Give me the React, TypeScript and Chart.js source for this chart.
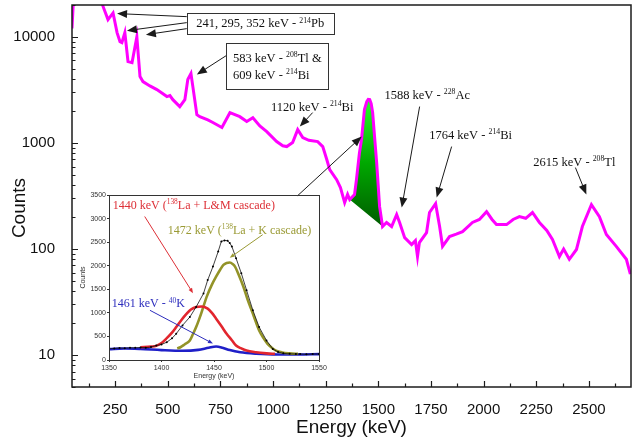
import React, { useEffect, useRef } from 'react';
import { Chart, registerables } from 'chart.js';
Chart.register(...registerables);

// ---------- main spectrum ----------
const spectrumEnergy = [
  45, 55, 120, 170, 192, 216, 240, 259, 273, 282, 296, 311, 330, 353, 368, 382, 415, 448, 496, 510,
  524, 557, 581, 595, 610, 619, 638, 652, 690, 714, 757, 795, 842, 875, 904, 937, 970, 1017, 1046, 1065,
  1093, 1117, 1141, 1170, 1212, 1236, 1255, 1269, 1302, 1320, 1340, 1354, 1364, 1387, 1396, 1410, 1420, 1434, 1445, 1452,
  1459, 1466, 1473, 1482, 1492, 1506, 1520, 1539, 1563, 1587, 1601, 1625, 1658, 1676, 1686, 1695, 1729, 1743, 1772, 1791,
  1805, 1838, 1870, 1900, 1947, 1980, 2014, 2040, 2061, 2109, 2140, 2170, 2200, 2232, 2265, 2300, 2327, 2360, 2380, 2407,
  2441, 2469, 2512, 2550, 2583, 2630, 2678, 2697,
];
const spectrumCounts = [
  12000, 30000, 45000, 30000, 19500, 14560, 16830, 10980, 9030, 8840, 10980, 5850, 5720, 10000, 4230, 3790, 3450, 3190, 2740, 2800,
  2560, 2200, 2560, 3960, 4510, 3400, 1850, 1770, 1650, 1560, 1400, 1930, 1770, 1592, 1730, 1450, 1280, 1031, 940, 925,
  1010, 1337, 1125, 1060, 1031, 925, 698, 561, 451, 380, 274, 327, 293, 327, 451, 800, 1077, 2065, 2450, 2580,
  2565, 2350, 1930, 1150, 653, 251, 163, 178, 163, 211, 178, 128, 110, 120, 85, 115, 143, 221, 268, 163,
  106, 131, 138, 146, 178, 190, 225, 190, 170, 170, 190, 202, 195, 221, 178, 150, 123, 85, 100, 80,
  99, 163, 262, 202, 137, 106, 80, 58,
];
const peakRegion = [1364, 1520];

const xTickValues = [250, 500, 750, 1000, 1250, 1500, 1750, 2000, 2250, 2500];
const xMinorTickValues = [125, 375, 625, 875, 1125, 1375, 1625, 1875, 2125, 2375, 2625];
const yTickValues = [10, 100, 1000, 10000];

// ---------- inset (fit of the 1440-1472 keV region) ----------
const insetMeasuredEnergy = [1350, 1355, 1360, 1365, 1370, 1375, 1380, 1385, 1390, 1395, 1400, 1405, 1410, 1414, 1420, 1427, 1433, 1440, 1444, 1449, 1454, 1457, 1460, 1463, 1465, 1467, 1471, 1476, 1481, 1487, 1493, 1500, 1506, 1511, 1516, 1522, 1528, 1532, 1538, 1544, 1550];
const insetMeasuredCounts = [235, 245, 255, 250, 260, 258, 265, 262, 275, 306, 330, 377, 460, 556, 734, 912, 1126, 1411, 1696, 1981, 2302, 2516, 2537, 2530, 2480, 2409, 2160, 1840, 1482, 1055, 698, 413, 235, 170, 141, 130, 125, 128, 120, 125, 128];
const inset1440Energy = [1380, 1390, 1395, 1400, 1405, 1410, 1414, 1419, 1424, 1428, 1433, 1438, 1444, 1448, 1452, 1457, 1462, 1467, 1471, 1476, 1481, 1490, 1500, 1508];
const inset1440Counts = [270, 285, 300, 360, 463, 580, 698, 850, 983, 1070, 1126, 1135, 1090, 1000, 877, 720, 556, 420, 306, 245, 199, 164, 141, 130];
const inset1472Energy = [1415, 1418, 1422, 1427, 1430, 1433, 1438, 1443, 1448, 1452, 1456, 1459, 1462, 1465, 1468, 1470, 1474, 1478, 1482, 1487, 1490, 1493, 1497, 1501, 1505, 1509, 1515, 1522, 1530];
const inset1472Counts = [245, 270, 330, 413, 550, 698, 1000, 1340, 1600, 1767, 1920, 2017, 2060, 2067, 2030, 1981, 1780, 1554, 1280, 983, 800, 627, 470, 342, 260, 199, 160, 141, 130];
const insetK40Energy = [1350, 1365, 1380, 1400, 1420, 1435, 1445, 1452, 1458, 1465, 1475, 1490, 1510, 1530, 1550];
const insetK40Counts = [230, 245, 235, 210, 195, 215, 260, 285, 260, 210, 165, 135, 118, 118, 125];
const insetXTicks = [1350, 1400, 1450, 1500, 1550];
const insetYTicks = [0, 500, 1000, 1500, 2000, 2500, 3000, 3500];

// ---------- annotations (data coordinates) ----------
const mainAnnotations = [
  { lines: ['241, 295, 352 keV - ^{214}Pb'], x: 939, y: 13490, align: 'center', box: { padX: 9.5, padY: 2 },
    arrows: [[590, 15530, 259, 16600], [590, 13640, 306, 11460], [590, 11970, 396, 10510]] },
  { lines: ['583 keV - ^{208}Tl &', '609 keV - ^{214}Bi'], x: 1020, y: 5306, align: 'left', box: { padX: 6.5, padY: 6 },
    arrows: [[785, 6810, 638, 4418]] },
  { lines: ['1120 keV - ^{214}Bi'], x: 1186, y: 2204, align: 'center', arrows: [[1188, 1934, 1127, 1428]] },
  { lines: ['1588 keV - ^{228}Ac'], x: 1732, y: 2858, align: 'center', arrows: [[1696, 2204, 1611, 246]] },
  { lines: ['1764 keV - ^{214}Bi'], x: 1938, y: 1200, align: 'center', arrows: [[1848, 925, 1777, 306]] },
  { lines: ['2615 keV - ^{208}Tl'], x: 2431, y: 668, align: 'center', arrows: [[2436, 586, 2488, 327]] },
  { lines: [], x: 0, y: 0, align: 'center', arrows: [[1117, 319, 1421, 1149]] },
];
const insetAnnotations = [
  { lines: ['1440 keV (^{138}La + L&M cascade)'], x: 1353.5, y: 3300, align: 'left', color: '#dd2f36', arrows: [[1384, 3044, 1430, 1418]] },
  { lines: ['1472 keV (^{138}La + K cascade)'], x: 1406, y: 2766, align: 'left', color: '#9a9a34', arrows: [[1496.4, 2659, 1465, 2167]] },
  { lines: ['1461 keV - ^{40}K'], x: 1352.6, y: 1204, align: 'left', color: '#2d2dbd', arrows: [[1389, 1054, 1449, 349]] },
];

const SANS = '"Liberation Sans", Arial, sans-serif';
const SERIF = '"Liberation Serif", "Times New Roman", serif';

type Part = { t: string; sup: boolean };
function parseRich(s: string): Part[] {
  const parts: Part[] = [];
  const re = /\^\{([^}]*)\}/g;
  let last = 0;
  let m: RegExpExecArray | null;
  while ((m = re.exec(s))) {
    if (m.index > last) parts.push({ t: s.slice(last, m.index), sup: false });
    parts.push({ t: m[1], sup: true });
    last = re.lastIndex;
  }
  if (last < s.length) parts.push({ t: s.slice(last), sup: false });
  return parts;
}
function richWidth(ctx: CanvasRenderingContext2D, parts: Part[], size: number) {
  let w = 0;
  for (const p of parts) {
    ctx.font = `${p.sup ? size * 0.62 : size}px ${SERIF}`;
    w += ctx.measureText(p.t).width;
  }
  return w;
}
function drawRich(ctx: CanvasRenderingContext2D, parts: Part[], x: number, yMid: number, size: number) {
  let cx = x;
  ctx.textBaseline = 'alphabetic';
  ctx.textAlign = 'left';
  for (const p of parts) {
    const fs = p.sup ? size * 0.62 : size;
    ctx.font = `${fs}px ${SERIF}`;
    const dy = p.sup ? -size * 0.36 : 0;
    ctx.fillText(p.t, cx, yMid + size * 0.34 + dy);
    cx += ctx.measureText(p.t).width;
  }
}
function drawArrow(ctx: CanvasRenderingContext2D, x1: number, y1: number, x2: number, y2: number, color: string, head: number, half: number) {
  const a = Math.atan2(y2 - y1, x2 - x1);
  ctx.strokeStyle = color;
  ctx.fillStyle = color;
  ctx.lineWidth = 1;
  ctx.beginPath();
  ctx.moveTo(x1, y1);
  ctx.lineTo(x2 - Math.cos(a) * head * 0.8, y2 - Math.sin(a) * head * 0.8);
  ctx.stroke();
  ctx.beginPath();
  ctx.moveTo(x2, y2);
  ctx.lineTo(x2 - Math.cos(a) * head - Math.sin(a) * half, y2 - Math.sin(a) * head + Math.cos(a) * half);
  ctx.lineTo(x2 - Math.cos(a) * head + Math.sin(a) * half, y2 - Math.sin(a) * head - Math.cos(a) * half);
  ctx.closePath();
  ctx.fill();
}

function annotationPlugin(list: any[], size: number, lineH: number, defColor: string, head: number, half: number) {
  return {
    id: 'notes',
    afterDatasetsDraw(chart: any) {
      const { ctx, scales } = chart;
      const px = (v: number) => scales.x.getPixelForValue(v);
      const py = (v: number) => scales.y.getPixelForValue(v);
      ctx.save();
      for (const a of list) {
        const color = a.color || defColor;
        for (const ar of a.arrows) {
          drawArrow(ctx, px(ar[0]), py(ar[1]), px(ar[2]), py(ar[3]), color === defColor ? '#1a1a1a' : color, head, half);
        }
        if (!a.lines.length) continue;
        const parts = a.lines.map((l: string) => parseRich(l));
        const widths = parts.map((p: Part[]) => richWidth(ctx, p, size));
        const bw = Math.max(...widths);
        const bh = a.lines.length * lineH;
        const cx = px(a.x);
        const cy = py(a.y);
        const left = a.align === 'left' && !a.box ? cx : cx - bw / 2;
        if (a.box) {
          ctx.fillStyle = '#ffffff';
          ctx.strokeStyle = '#333333';
          ctx.lineWidth = 1;
          const bx = Math.round(left - a.box.padX) + 0.5;
          const by = Math.round(cy - bh / 2 - a.box.padY) + 0.5;
          const w = Math.round(bw + 2 * a.box.padX);
          const h = Math.round(bh + 2 * a.box.padY);
          ctx.fillRect(bx, by, w, h);
          ctx.strokeRect(bx, by, w, h);
        }
        ctx.fillStyle = color;
        parts.forEach((p: Part[], i: number) => {
          const lx = a.align === 'left' ? left : cx - widths[i] / 2;
          drawRich(ctx, p, lx, cy - bh / 2 + lineH * (i + 0.5), size);
        });
      }
      ctx.restore();
    },
  };
}

const mainFramePlugin = {
  id: 'mainFrame',
  afterDraw(chart: any) {
    const { ctx, chartArea: ca, scales } = chart;
    ctx.save();
    ctx.strokeStyle = '#1c1c1c';
    ctx.lineWidth = 1.5;
    ctx.strokeRect(ca.left, ca.top, ca.right - ca.left, ca.bottom - ca.top);
    ctx.lineWidth = 1.2;
    ctx.beginPath();
    for (const v of xTickValues) {
      const x = Math.round(scales.x.getPixelForValue(v)) + 0.5;
      ctx.moveTo(x, ca.bottom);
      ctx.lineTo(x, ca.bottom - 6);
    }
    for (const v of xMinorTickValues) {
      const x = Math.round(scales.x.getPixelForValue(v)) + 0.5;
      ctx.moveTo(x, ca.bottom);
      ctx.lineTo(x, ca.bottom - 3.5);
    }
    for (let d = 1; d <= 10000; d *= 10) {
      for (let k = 1; k <= 9; k++) {
        const v = d * k;
        if (v < 5 || v > 20000) continue;
        const y = Math.round(scales.y.getPixelForValue(v)) + 0.5;
        ctx.moveTo(ca.left, y);
        ctx.lineTo(ca.left + (k === 1 ? 6 : 3.5), y);
      }
    }
    ctx.stroke();
    // y axis title
    ctx.fillStyle = '#111';
    ctx.font = `19px ${SANS}`;
    ctx.textAlign = 'center';
    ctx.textBaseline = 'middle';
    ctx.translate(20, 208);
    ctx.rotate(-Math.PI / 2);
    ctx.fillText('Counts', 0, 0);
    ctx.restore();
  },
};

const insetFramePlugin = {
  id: 'insetFrame',
  afterDraw(chart: any) {
    const { ctx, chartArea: ca } = chart;
    ctx.save();
    ctx.strokeStyle = '#333';
    ctx.lineWidth = 1;
    ctx.strokeRect(Math.round(ca.left) + 0.5, Math.round(ca.top) + 0.5, Math.round(ca.right - ca.left), Math.round(ca.bottom - ca.top));
    ctx.restore();
  },
};

const pts = (xs: number[], ys: number[]) => xs.map((x, i) => ({ x, y: ys[i] }));
const plain = (v: any) => String(v);
const fitX = (h: number) => (s: any) => { s.height = h; s.paddingLeft = 0; s.paddingRight = 0; };
const fitY = (w: number) => (s: any) => { s.width = w; s.paddingTop = 0; s.paddingBottom = 0; };

export default function App() {
  const mainRef = useRef<HTMLCanvasElement>(null);
  const insetRef = useRef<HTMLCanvasElement>(null);

  useEffect(() => {
    const spectrum = pts(spectrumEnergy, spectrumCounts);
    const peakPts = spectrum.filter((p) => p.x >= peakRegion[0] && p.x <= peakRegion[1]);
    const baseline = [peakPts[0], peakPts[peakPts.length - 1]];

    const main = new Chart(mainRef.current!, {
      type: 'line',
      data: {
        datasets: [
          { data: spectrum, borderColor: '#ff00ff', borderWidth: 3, pointRadius: 0, fill: false },
          {
            data: peakPts,
            borderWidth: 0,
            borderColor: 'rgba(0,0,0,0)',
            pointRadius: 0,
            fill: 2,
            backgroundColor: (c: any) => {
              const ch = c.chart;
              if (!ch.chartArea) return '#00a000';
              const top = ch.scales.y.getPixelForValue(2600);
              const bot = ch.scales.y.getPixelForValue(160);
              const g = ch.ctx.createLinearGradient(0, top, 0, bot);
              g.addColorStop(0, '#2cff2c');
              g.addColorStop(0.5, '#00a800');
              g.addColorStop(1, '#005a00');
              return g;
            },
          },
          { data: baseline, borderWidth: 0, borderColor: 'rgba(0,0,0,0)', pointRadius: 0, fill: false },
        ],
      },
      options: {
        responsive: false,
        animation: false,
        devicePixelRatio: 1,
        layout: { padding: { left: 0, right: 2, top: 5, bottom: 0 } },
        plugins: { legend: { display: false }, tooltip: { enabled: false } },
        scales: {
          x: {
            type: 'linear',
            min: 45,
            max: 2700,
            afterBuildTicks: (s: any) => { s.ticks = xTickValues.map((v) => ({ value: v })); },
            afterFit: fitX(53),
            grid: { display: false },
            border: { display: false },
            ticks: { font: { family: SANS, size: 15 }, color: '#111', padding: 6, maxRotation: 0, autoSkip: false, callback: plain },
            title: { display: true, text: 'Energy (keV)', font: { family: SANS, size: 19 }, color: '#111', padding: { top: 0, bottom: 1 } },
          },
          y: {
            type: 'logarithmic',
            min: 5,
            max: 20000,
            afterBuildTicks: (s: any) => { s.ticks = yTickValues.map((v) => ({ value: v })); },
            afterFit: fitY(72),
            grid: { display: false },
            border: { display: false },
            ticks: { font: { family: SANS, size: 15 }, color: '#111', padding: 9, callback: plain },
          },
        },
      },
      plugins: [mainFramePlugin, annotationPlugin(mainAnnotations, 12.5, 17, '#111', 10, 4)],
    } as any);

    const inset = new Chart(insetRef.current!, {
      type: 'line',
      data: {
        datasets: [
          { data: pts(insetMeasuredEnergy, insetMeasuredCounts), borderColor: '#111', borderWidth: 0.8, pointRadius: 1, pointBorderWidth: 0, pointBackgroundColor: '#000' },
          { data: pts(inset1440Energy, inset1440Counts), borderColor: '#e2262e', borderWidth: 2.6, pointRadius: 0, cubicInterpolationMode: 'monotone' },
          { data: pts(inset1472Energy, inset1472Counts), borderColor: '#939328', borderWidth: 2.6, pointRadius: 0, cubicInterpolationMode: 'monotone' },
          { data: pts(insetK40Energy, insetK40Counts), borderColor: '#1f1fc8', borderWidth: 2.6, pointRadius: 0, cubicInterpolationMode: 'monotone' },
        ],
      },
      options: {
        responsive: false,
        animation: false,
        devicePixelRatio: 1,
        layout: { padding: { left: 0, right: 11, top: 7, bottom: 0 } },
        plugins: { legend: { display: false }, tooltip: { enabled: false } },
        scales: {
          x: {
            type: 'linear',
            min: 1350,
            max: 1550,
            afterBuildTicks: (s: any) => { s.ticks = insetXTicks.map((v) => ({ value: v })); },
            afterFit: fitX(23),
            grid: { display: true, drawOnChartArea: false, drawTicks: true, tickLength: 2, color: '#333' },
            border: { display: false },
            ticks: { font: { family: SANS, size: 7 }, color: '#333', padding: 2, maxRotation: 0, autoSkip: false, callback: plain },
            title: { display: true, text: 'Energy (keV)', font: { family: SANS, size: 7 }, color: '#333', padding: { top: 0, bottom: 3 } },
          },
          y: {
            type: 'linear',
            min: 0,
            max: 3500,
            afterBuildTicks: (s: any) => { s.ticks = insetYTicks.map((v) => ({ value: v })); },
            afterFit: fitY(30),
            grid: { display: true, drawOnChartArea: false, drawTicks: true, tickLength: 2, color: '#333' },
            border: { display: false },
            ticks: { font: { family: SANS, size: 7 }, color: '#333', padding: 1, callback: plain },
            title: { display: true, text: 'Counts', font: { family: SANS, size: 7 }, color: '#333', padding: { top: 0, bottom: 0 } },
          },
        },
      },
      plugins: [insetFramePlugin, annotationPlugin(insetAnnotations, 12, 14, '#111', 5, 2)],
    } as any);

    return () => {
      main.destroy();
      inset.destroy();
    };
  }, []);

  return (
    <div style={{ position: 'fixed', left: 0, top: 0, width: 633, height: 440, background: '#fff' }}>
      <canvas ref={mainRef} width={633} height={440} style={{ position: 'absolute', left: 0, top: 0 }} />
      <canvas ref={insetRef} width={251} height={195} style={{ position: 'absolute', left: 79, top: 188 }} />
    </div>
  );
}
